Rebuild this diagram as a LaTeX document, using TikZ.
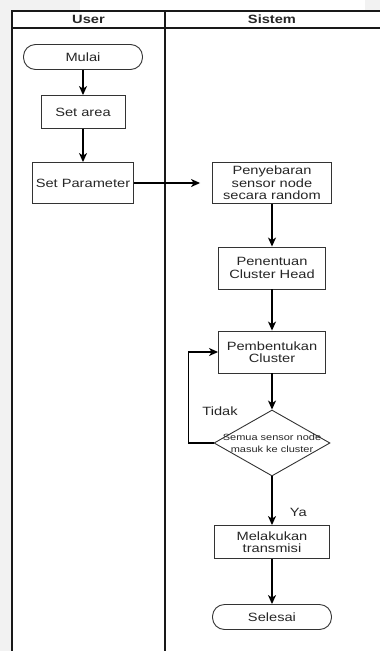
\documentclass[tikz,border=0pt]{standalone}
\usepackage{fontspec}
\setmainfont{Liberation Sans}[FakeStretch=1.22]
\usetikzlibrary{positioning,shapes.geometric,arrows.meta}

\begin{document}
\begin{tikzpicture}[x=1pt,y=-1pt,node distance=2cm,on grid,auto,
	>={Stealth[length=9pt,width=8pt,inset=2.5pt]},
	every node/.style={font=\fontsize{12}{12.5}\selectfont,text=black!85},
	proses/.style={draw=black!80,rectangle,align=center,inner sep=2pt,line width=0.9pt},
	terminal/.style={draw=black!80,rectangle,rounded corners=12pt,minimum width=119pt,minimum height=25pt,line width=0.9pt},
	keputusan/.style={draw=black!80,diamond,minimum width=116pt,minimum height=66pt,inner sep=0pt,line width=0.9pt},
	garis/.style={line width=1.2pt}]
			\useasboundingbox (0,0) rectangle (380,651);
			\fill[black!5] (0,0) rectangle (11,651);
			\fill[black!5] (0,0) rectangle (80,10);
			\fill[black!5] (365,0) rectangle (380,10);
			% swimlane
			\draw[line width=1.2pt,black!90] (12,651) -- (12,11) -- (382,11);
			\draw[line width=1.2pt,black!90] (12,28) -- (382,28);
			\draw[line width=1.2pt,black!90] (165,11) -- (165,651);
			\node[font=\fontsize{12}{12.5}\selectfont\bfseries](user) at (88.5,19.5) {User};
			\node[font=\fontsize{12}{12.5}\selectfont\bfseries](sistem) at (272,19.5) {Sistem};
			% alur
			\node[terminal](mulai) at (83,57) {Mulai};
			\node[proses,minimum width=84pt,minimum height=33pt](area)[below=55pt of mulai] {Set area};
			\node[proses,minimum width=101pt,minimum height=41pt](param)[below=71pt of area] {Set Parameter};
			\node[proses,minimum width=119pt,minimum height=41pt](sebar)[right=189pt of param] {Penyebaran\\sensor node\\secara random};
			\node[proses,minimum width=107pt,minimum height=42pt](head)[below=85pt of sebar] {Penentuan\\Cluster Head};
			\node[proses,minimum width=107pt,minimum height=42pt](cluster)[below=84pt of head] {Pembentukan\\Cluster};
			\node[keputusan,label={[font=\fontsize{9}{12}\selectfont,align=center]center:Semua sensor node\\masuk ke cluster}](cek)[below=91pt of cluster] {};
			\node[proses,minimum width=115pt,minimum height=33pt](kirim)[below=99pt of cek] {Melakukan\\transmisi};
			\node[terminal](selesai)[below=75pt of kirim] {Selesai};
			\node(tidak) at (220,411) {Tidak};
			\path[->,garis]
			(mulai) edge (area)
			(area) edge (param)
			(param) edge [shorten >=12pt] (sebar)
			(sebar) edge (head)
			(head) edge (cluster)
			(cluster) edge (cek)
			(cek) edge node[near end,right=14pt] {Ya} (kirim)
			(kirim) edge (selesai);
			\draw[->,garis] (cek.west) -- ++(-25,0) |- (cluster.west);
			\end{tikzpicture}
\end{document}
